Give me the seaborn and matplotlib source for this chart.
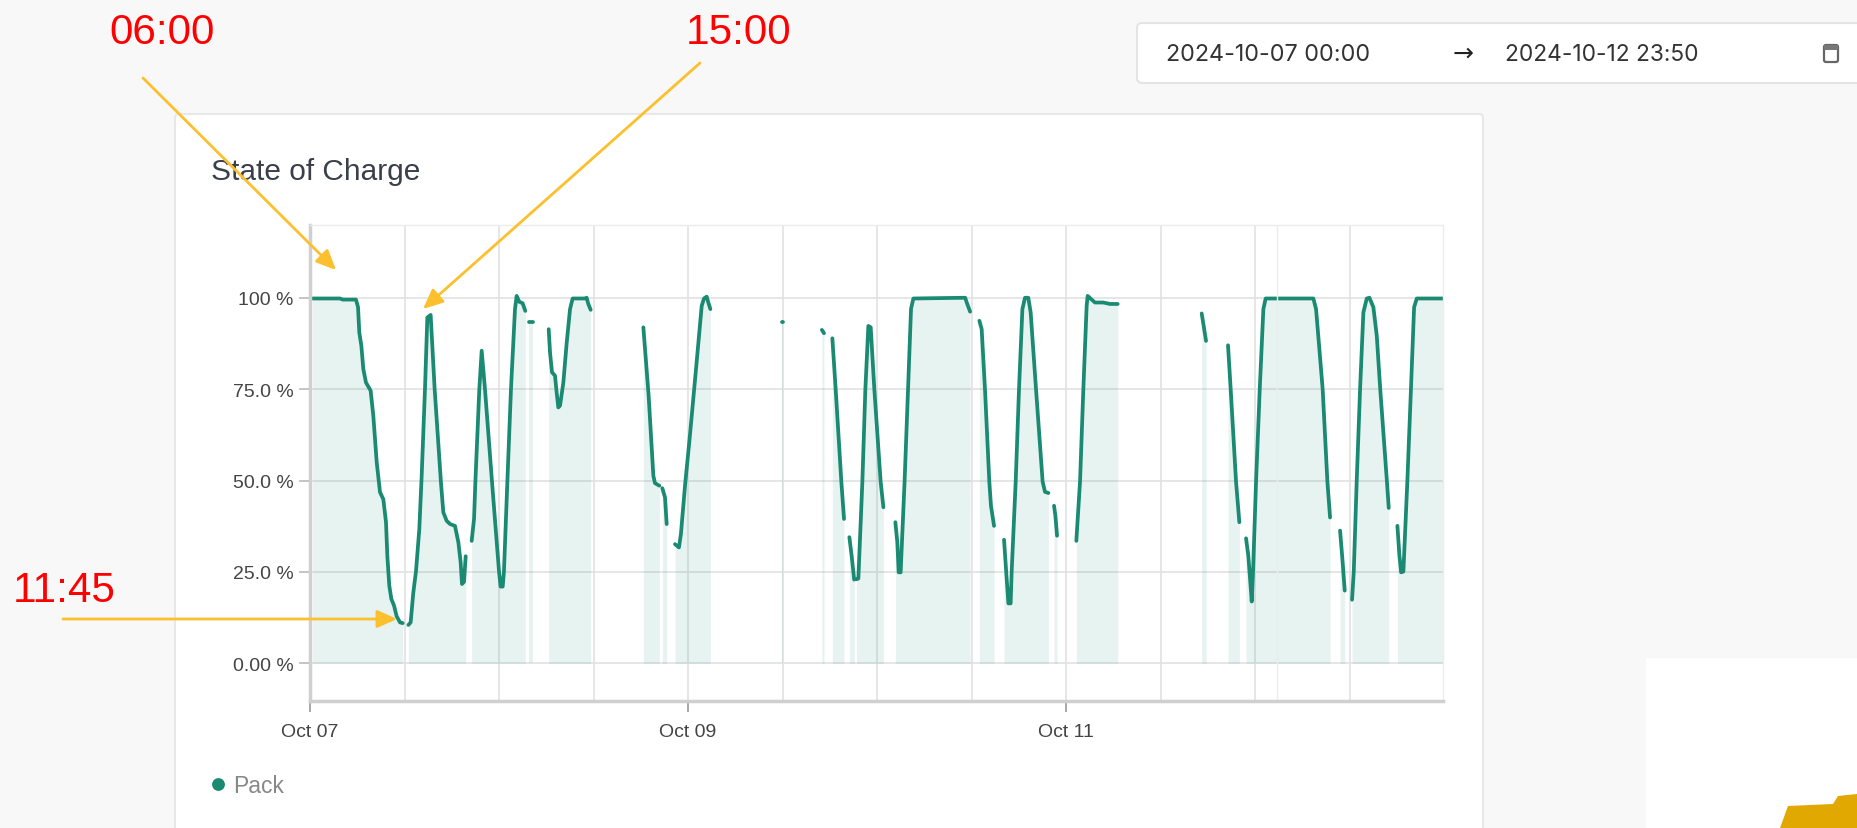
import matplotlib
matplotlib.use("Agg")
import matplotlib.pyplot as plt
import matplotlib.dates as mdates
from matplotlib.patches import FancyBboxPatch, Rectangle, Polygon
import pandas as pd
import seaborn as sns

# hours after 2024-10-07 00:00, one list per unbroken stretch of the line
hours = [
    [0.34, 3.8, 4.15, 5.84, 6.1, 6.26, 6.52, 6.77, 7.11, 7.7, 8.04, 8.47, 8.89, 9.31, 9.65, 9.82, 10.07, 10.33, 10.67, 11.0, 11.43, 11.77],
    [12.49, 12.78, 13.12, 13.46, 13.88, 14.18, 14.6, 14.9, 15.32, 15.83, 16.63, 16.93, 17.35, 17.78, 18.41, 18.84, 19.13, 19.3, 19.56, 19.77],
    [20.53, 20.83, 21.0, 21.5, 21.8, 22.22, 23.11, 24.0, 24.2, 24.47, 24.63, 25.06, 25.52, 26.03, 26.24, 26.58, 27.0, 27.34],
    [27.85, 28.3],
    [30.31, 30.48, 30.73, 31.11, 31.32, 31.53, 31.75, 32.17, 32.6, 33.02, 33.35, 34.92, 35.13, 35.34, 35.64],
    [42.33, 43.0, 43.6, 43.8, 44.36],
    [44.74, 45.08, 45.29],
    [46.35, 46.85, 47.1, 47.62, 48.25, 49.1, 49.74, 50.03, 50.37, 50.58, 50.84],
    [59.9, 60.1],
    [65.0, 65.27],
    [66.33, 66.75, 67.47, 67.81],
    [68.49, 68.78, 69.1],
    [69.4, 69.63, 70.14, 70.52, 70.9, 71.2, 71.66, 72.46, 72.81],
    [74.33, 74.58, 74.75, 75.0, 75.5, 75.94, 76.32, 76.62, 83.2, 83.39, 83.82],
    [85.0, 85.29, 85.71, 86.26, 86.47, 86.86],
    [88.13, 88.38, 88.68, 88.97, 89.1, 89.61, 90.03, 90.46, 90.79, 91.21, 91.51, 92.19, 93.03, 93.33, 93.76],
    [94.48, 94.65, 94.86],
    [97.31, 97.78, 98.2, 98.62, 98.75, 99.26, 99.68, 100.74, 101.59, 102.56],
    [113.23, 113.78],
    [116.57, 116.91, 117.59, 118.01],
    [118.86, 119.15, 119.37, 119.58, 119.75, 120.13, 120.6, 121.06, 121.35, 127.41, 127.75, 128.17, 128.59, 129.19, 129.53],
    [130.8, 131.13, 131.39],
    [132.32, 132.54, 132.91, 133.34, 133.76, 134.19, 134.53, 135.03, 135.46, 135.9, 136.75, 136.98],
    [138.08, 138.34, 138.55, 138.84, 139.34, 139.8, 140.2, 140.54, 143.84],
]
soc = [
    [99.8, 99.8, 99.5, 99.5, 97.4, 90.5, 86.9, 80.5, 76.8, 74.6, 67.7, 55.0, 46.8, 44.9, 38.6, 29.4, 21.2, 17.6, 15.8, 12.9, 11.2, 11.0],
    [10.5, 11.2, 19.4, 25.2, 36.7, 51.3, 75.0, 94.6, 95.3, 75.0, 49.4, 41.3, 39.0, 38.1, 37.6, 33.1, 27.6, 21.7, 22.3, 29.3],
    [33.5, 39.5, 49.7, 75.0, 85.5, 75.0, 49.7, 25.2, 21.0, 21.0, 25.2, 49.7, 75.0, 96.9, 100.5, 98.9, 98.5, 96.4],
    [93.5, 93.5],
    [91.4, 85.0, 79.6, 78.7, 74.1, 70.0, 70.5, 76.8, 87.8, 96.9, 99.8, 99.8, 100.0, 98.3, 96.7],
    [91.9, 73.2, 51.3, 49.3, 48.6],
    [47.9, 45.4, 38.1],
    [32.6, 31.7, 35.4, 48.6, 62.5, 82.5, 97.8, 99.8, 100.3, 98.7, 96.9],
    [93.5, 93.5],
    [91.2, 90.3],
    [88.9, 75.0, 49.7, 39.5],
    [34.5, 29.4, 22.9],
    [23.0, 23.2, 49.7, 75.0, 92.3, 91.9, 75.0, 49.7, 42.7],
    [38.6, 33.1, 24.9, 24.9, 49.7, 75.0, 97.0, 99.8, 100.0, 98.7, 96.2],
    [93.7, 91.4, 75.0, 49.7, 43.1, 37.6],
    [33.8, 25.8, 16.4, 16.4, 25.2, 49.7, 75.0, 96.9, 100.0, 100.0, 96.0, 75.0, 49.7, 46.9, 46.6],
    [43.1, 40.4, 34.9],
    [33.5, 49.7, 75.0, 97.8, 100.5, 99.5, 98.7, 98.7, 98.3, 98.3],
    [95.7, 88.2],
    [87.0, 75.0, 49.7, 38.6],
    [34.2, 29.4, 23.1, 16.9, 25.2, 49.7, 75.0, 96.9, 99.8, 99.8, 96.9, 86.0, 75.0, 49.7, 39.9],
    [36.3, 27.6, 19.9],
    [17.4, 25.2, 49.7, 75.0, 96.0, 99.8, 100.0, 97.4, 89.6, 75.0, 49.7, 42.5],
    [37.6, 29.4, 24.9, 25.1, 49.7, 75.0, 97.4, 99.8, 99.8],
]
ytick_values = [0, 25, 50, 75, 100]
ytick_labels = ["0.00 %", "25.0 %", "50.0 %", "75.0 %", "100 %"]
xtick_dates = ["2024-10-07", "2024-10-09", "2024-10-11"]
xtick_labels = ["Oct 07", "Oct 09", "Oct 11"]
title = "State of Charge"
series_name = "Pack"
date_from = "2024-10-07 00:00"
date_to = "2024-10-12 23:50"

W, H = 1857, 829
start = pd.Timestamp("2024-10-07 00:00")
LINE = "#1a8a72"

sns.set_theme(style="white")
plt.rcParams["font.family"] = ["Liberation Sans", "DejaVu Sans"]

rows = []
for i, (hh, ss) in enumerate(zip(hours, soc)):
    for h, s in zip(hh, ss):
        rows.append({"time": start + pd.Timedelta(hours=h), "soc": s, "segment": i})
df = pd.DataFrame(rows)

fig = plt.figure(figsize=(W / 100, H / 100), dpi=100, facecolor="#f8f8f8")


def px_axes(z):
    a = fig.add_axes([0, 0, 1, 1], zorder=z)
    a.set_xlim(0, W)
    a.set_ylim(H, 0)
    a.axis("off")
    return a


# page behind the chart
bg = px_axes(0)
bg.add_patch(FancyBboxPatch((175, 115), 1308, 760, boxstyle="round,pad=0,rounding_size=4",
                            fc="white", ec="#e8e8e8", lw=1.5))
bg.add_patch(FancyBboxPatch((1137, 24), 800, 60, boxstyle="round,pad=0,rounding_size=5",
                            fc="white", ec="#e4e4e4", lw=1.5))
bg.add_patch(Rectangle((1646, 659), 211, 170, fc="white", ec="none"))
bg.add_patch(Polygon([(1780, 829), (1788, 807), (1833, 805), (1838, 797), (1857, 795), (1857, 829)],
                     fc="#e0a800", ec="none"))
bg.text(1166, 55, date_from, fontsize=16.8, family="Inter", color="#333333", va="center")
bg.text(1505, 55, date_to, fontsize=16.4, family="Inter", color="#333333", va="center")
bg.text(1463, 54, "→", fontsize=18, family="DejaVu Sans", color="#222222", va="center", ha="center")
bg.add_patch(FancyBboxPatch((1824, 46), 14, 17, boxstyle="round,pad=0,rounding_size=2",
                            fc="white", ec="#666666", lw=1.6))
bg.add_patch(Rectangle((1824, 46), 14, 5, fc="#777777", ec="none"))
bg.text(211, 172, title, fontsize=21.5, color="#3a3f4a", va="center")
bg.scatter([218], [785], s=85, color=LINE, linewidths=0)
bg.text(233, 787, series_name, fontsize=16.5, color="#888888", va="center")

# chart
ax = fig.add_axes([310 / W, 1 - 702 / H, (1443 - 310) / W, (702 - 226) / H], zorder=1)
ax.patch.set_alpha(0)
for _, g in df.groupby("segment"):
    ax.fill_between(g["time"], 0, g["soc"], color=LINE, alpha=0.1, lw=0)
sns.lineplot(data=df, x="time", y="soc", units="segment", estimator=None, color=LINE,
             linewidth=2.7, ax=ax, legend=False)

ax.set_xlim(start, start + pd.Timedelta(hours=143.87))
ax.set_ylim(-10.3, 119.9)
ax.set_xlabel("")
ax.set_ylabel("")
ax.set_yticks(ytick_values)
ax.set_yticklabels(ytick_labels)
ax.set_xticks(pd.to_datetime(xtick_dates))
ax.set_xticklabels(xtick_labels)
ax.xaxis.set_minor_locator(mdates.HourLocator(byhour=[0, 12]))
ax.grid(True, which="major", color="#e2e2e2", lw=1.2)
ax.grid(True, which="minor", axis="x", color="#e2e2e2", lw=1.2)
ax.axvline(start + pd.Timedelta(hours=122.8), color="#ececec", lw=1)
ax.set_axisbelow(True)
ax.tick_params(axis="x", which="major", length=8, width=1.2, color="#999999", labelsize=14,
               labelcolor="#444444", pad=8, bottom=True)
ax.tick_params(axis="x", which="minor", length=0)
ax.tick_params(axis="y", length=8, width=1.2, color="#bbbbbb", labelsize=14, labelcolor="#444444",
               pad=4, left=True)
for side, c, w in [("top", "#ececec", 1), ("right", "#ececec", 1), ("left", "#d0d0d0", 2.5), ("bottom", "#cfcfcf", 2.5)]:
    ax.spines[side].set_color(c)
    ax.spines[side].set_linewidth(w)

# red callouts pasted on top
top = px_axes(2)
top.patch.set_alpha(0)
for txt, x, y in [("06:00", 162, 33), ("15:00", 739, 33), ("11:45", 64, 591)]:
    top.text(x, y, txt, color="#ff0000", fontsize=30.4, ha="center", va="center")
for a, b in [((143, 79), (336, 271)), ((700, 64), (423, 310)), ((63, 620), (397, 620))]:
    top.annotate("", xy=b, xytext=a,
                 arrowprops=dict(arrowstyle="-|>,head_length=1.0,head_width=0.45", color="#fcc02e",
                                 lw=2, shrinkA=0, shrinkB=0))

fig.savefig("out.png", dpi=100, facecolor=fig.get_facecolor())
